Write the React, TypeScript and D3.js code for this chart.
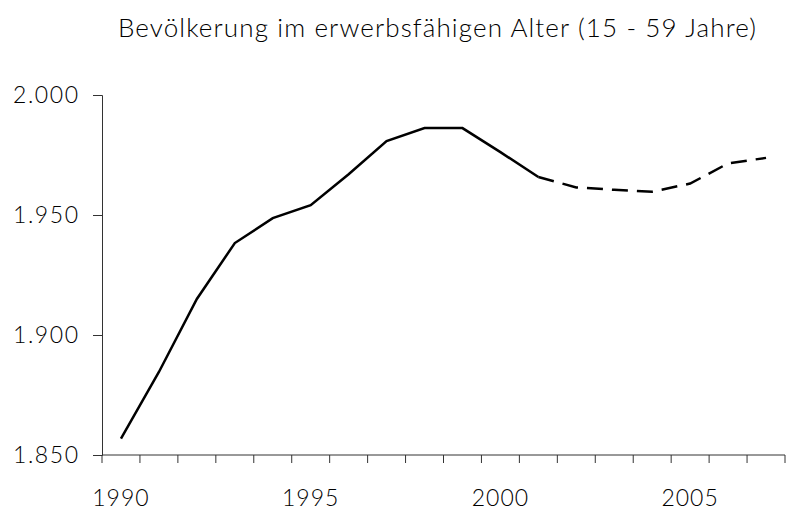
import { useEffect, useRef } from "react";
import * as d3 from "d3";

const years = [
  "1990", "1991", "1992", "1993", "1994", "1995", "1996", "1997", "1998",
  "1999", "2000", "2001", "2002", "2003", "2004", "2005", "2006", "2007",
];
// Tausend Personen
const actual = [
  1856.8, 1884.6, 1915, 1938.3, 1948.7, 1954.1, 1967, 1980.8, 1986.2, 1986.2,
  1976.2, 1965.8,
];
const projected = [1965.8, 1961.5, 1960.5, 1959.7, 1963.1, 1971.5, 1973.8];
const yTicks = [1850, 1900, 1950, 2000];
const xLabels = ["1990", "1995", "2000", "2005"];

const W = 787;
const H = 512;
const margin = { top: 95, right: 2, bottom: 57, left: 102 };
const font = "Lato, 'DejaVu Sans', sans-serif";

export default function App() {
  const ref = useRef<SVGSVGElement>(null);

  useEffect(() => {
    const svg = d3.select(ref.current);
    svg.selectAll("*").remove();

    const x = d3
      .scaleBand()
      .domain(years)
      .range([margin.left, W - margin.right]);
    const y = d3
      .scaleLinear()
      .domain([1850, 2000])
      .range([H - margin.bottom, margin.top]);

    const cx = (yr: string) => (x(yr) as number) + x.bandwidth() / 2;

    svg
      .append("text")
      .attr("x", 118)
      .attr("y", 37)
      .attr("textLength", 638)
      .attr("lengthAdjust", "spacing")
      .style("font-family", font)
      .style("font-size", "26px")
      .style("font-weight", 300)
      .attr("fill", "#000")
      .text("Bevölkerung im erwerbsfähigen Alter (15 - 59 Jahre)");

    // y-Achse
    const yAxis = svg
      .append("g")
      .attr("transform", `translate(${margin.left},0)`)
      .call(
        d3
          .axisLeft(y)
          .tickValues(yTicks)
          .tickSize(9)
          .tickPadding(15)
          .tickFormat((d) => d3.format(".3f")(+d / 1000))
      );
    yAxis.select(".domain").attr("stroke", "#333");
    yAxis.selectAll("line").attr("stroke", "#333");
    yAxis
      .selectAll("text")
      .attr("textLength", 65)
      .attr("lengthAdjust", "spacing")
      .style("font-family", font)
      .style("font-size", "23px")
      .style("font-weight", 300)
      .attr("fill", "#000");

    // x-Achse: Ticks an den Kategoriegrenzen
    const xg = svg
      .append("g")
      .attr("transform", `translate(0,${H - margin.bottom})`);
    xg.append("line")
      .attr("x1", margin.left)
      .attr("x2", W - margin.right)
      .attr("stroke", "#333");
    const bounds = years.map((yr) => x(yr) as number).concat([W - margin.right]);
    xg.selectAll("line.tick")
      .data(bounds)
      .join("line")
      .attr("class", "tick")
      .attr("x1", (d) => d)
      .attr("x2", (d) => d)
      .attr("y1", 0)
      .attr("y2", 8)
      .attr("stroke", "#333");
    xg.selectAll("text")
      .data(xLabels)
      .join("text")
      .attr("x", (d) => cx(d))
      .attr("y", 51)
      .attr("text-anchor", "middle")
      .style("font-family", font)
      .style("font-size", "23px")
      .style("font-weight", 300)
      .style("letter-spacing", "1px")
      .attr("fill", "#000")
      .text((d) => d);

    const line = d3
      .line<number>()
      .x((_, i) => cx(years[i]))
      .y((d) => y(d));

    svg
      .append("path")
      .datum(actual)
      .attr("fill", "none")
      .attr("stroke", "#000")
      .attr("stroke-width", 2.5)
      .attr("d", line);

    const offset = actual.length - 1;
    const lineP = d3
      .line<number>()
      .x((_, i) => cx(years[i + offset]))
      .y((d) => y(d));

    svg
      .append("path")
      .datum(projected)
      .attr("fill", "none")
      .attr("stroke", "#000")
      .attr("stroke-width", 2.5)
      .attr("stroke-dasharray", "16,9")
      .attr("d", lineP);
  }, []);

  return (
    <svg
      ref={ref}
      width={W}
      height={H}
      style={{ position: "absolute", left: 0, top: 0, background: "#fff" }}
    />
  );
}
